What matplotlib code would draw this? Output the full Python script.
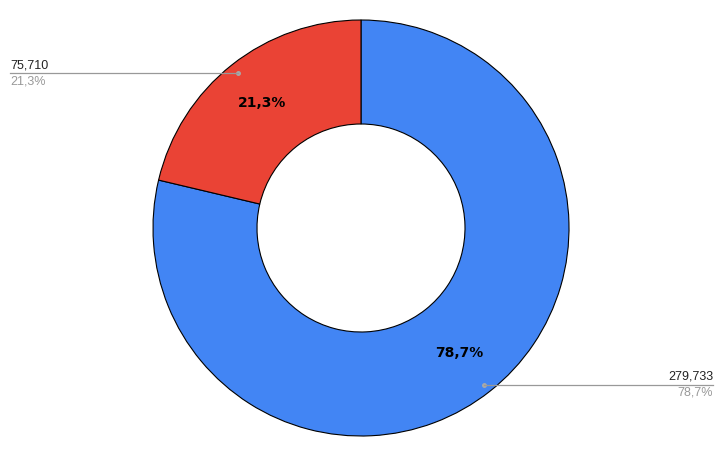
import numpy as np
import matplotlib.pyplot as plt

plt.rcParams['font.family'] = ['Liberation Sans', 'DejaVu Sans']

# data
labels = ['A', 'B']
values = [279733, 75710]
colors = ['#4285F4', '#EA4335']

W, H = 722, 455
fig = plt.figure(figsize=(W / 100, H / 100), dpi=100)
ax = fig.add_axes([0, 0, 1, 1])
ax.set_xlim(0, W)
ax.set_ylim(0, H)
ax.set_aspect('equal')
ax.axis('off')

cx, cy, R = 361, H - 228, 208

wedges, _ = ax.pie(values, colors=colors, startangle=90, counterclock=False,
                   center=(cx, cy), radius=R,
                   wedgeprops=dict(width=R * 0.5, edgecolor='black', linewidth=0.8))
ax.set_xlim(0, W)
ax.set_ylim(0, H)

total = sum(values)
for w, v in zip(wedges, values):
    pct = ('%.1f%%' % (100.0 * v / total)).replace('.', ',')
    mid = np.deg2rad((w.theta1 + w.theta2) / 2)
    # label inside ring
    tx = cx + 0.765 * R * np.cos(mid)
    ty = cy + 0.765 * R * np.sin(mid)
    ax.text(tx, ty, pct, ha='center', va='center', fontsize=10,
            fontweight='bold', color='black', family='DejaVu Sans')
    # leader line to the side
    dx = cx + 0.955 * R * np.cos(mid)
    dy = cy + 0.955 * R * np.sin(mid) - 1
    ax.plot([dx], [dy], 'o', color='#aaaaaa', markersize=2.5)
    if np.cos(mid) < 0:
        ex, ha = 10, 'left'
    else:
        ex, ha = 713, 'right'
    ax.plot([dx, ex], [dy, dy], color='#999999', linewidth=0.9)
    ax.text(ex, dy + 2, '{:,}'.format(v), ha=ha, va='bottom', fontsize=9,
            color='#222222')
    ax.text(ex, dy - 2, pct, ha=ha, va='top', fontsize=9, color='#999999')

fig.savefig('out.png', dpi=100)
